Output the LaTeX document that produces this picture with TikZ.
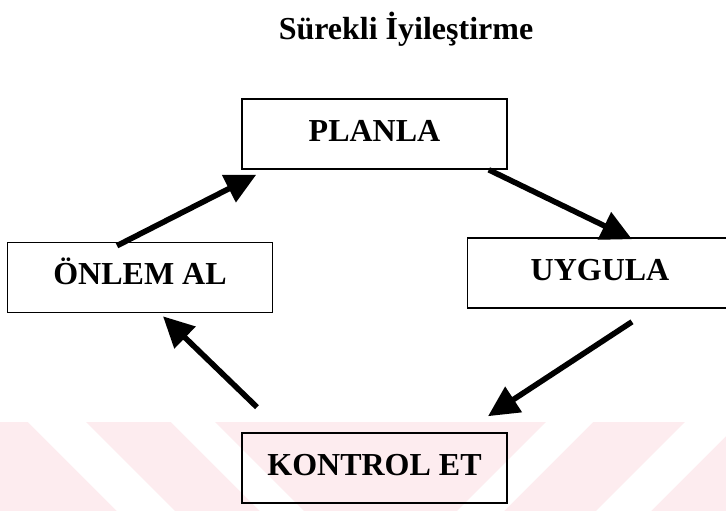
\documentclass[tikz,border=0pt]{standalone}
\usepackage{fontspec}
\setmainfont{Liberation Serif}
\usetikzlibrary{arrows.meta}
\definecolor{watermark}{RGB}{253,236,239}
\begin{document}
\begin{tikzpicture}[x=0.75pt, y=-0.75pt, node distance=250.5pt, >={Triangle[length=23pt,width=22pt]},
    font=\bfseries\fontsize{24}{28}\selectfont]
      % Styles
      \tikzstyle{block} = [rectangle, draw=black, line width=1.2pt, text centered,
                          minimum width=198.75pt, minimum height=52.5pt, text height=16pt, text depth=5pt]
      \tikzstyle{pfeil} = [->, line width=4.2pt]
      \useasboundingbox (0,0) rectangle (726,511);

      % Watermark
      \fill[watermark] (0,422) rectangle (726,511);
      \fill[white] (28,422) -- (86,422) -- (175,511) -- (117,511) -- cycle;
      \fill[white] (171,422) -- (215,422) -- (304,511) -- (260,511) -- cycle;
      \fill[white] (546,422) -- (593,422) -- (504,511) -- (457,511) -- cycle;
      \fill[white] (685,422) -- (740,422) -- (651,511) -- (596,511) -- cycle;

      % Nodes
      \node[anchor=base] (titel) at (406,39) {Sürekli İyileştirme};
      \node[block] (planla) at (374.5,134) {PLANLA};
      \node[block] (onlem) at (140,277.5) {ÖNLEM AL};
      \node[block] (uygula) at (600,273) {UYGULA};
      \node[block, below of=planla] (kontrol) {KONTROL ET};

      % Arrows
      \draw[pfeil] ([shift={(-23,4)}]onlem.north) -- ([shift={(15,5)}]planla.south west);
      \draw[pfeil] ([shift={(-19,0)}]planla.south east) -- ([shift={(32,2)}]uygula.north);
      \draw[pfeil] ([shift={(32,13)}]uygula.south) -- ([shift={(113.5,-16)}]kontrol.north);
      \draw[pfeil] ([shift={(-117.5,-25)}]kontrol.north) -- ([shift={(23,3)}]onlem.south);
  \end{tikzpicture}
\end{document}
